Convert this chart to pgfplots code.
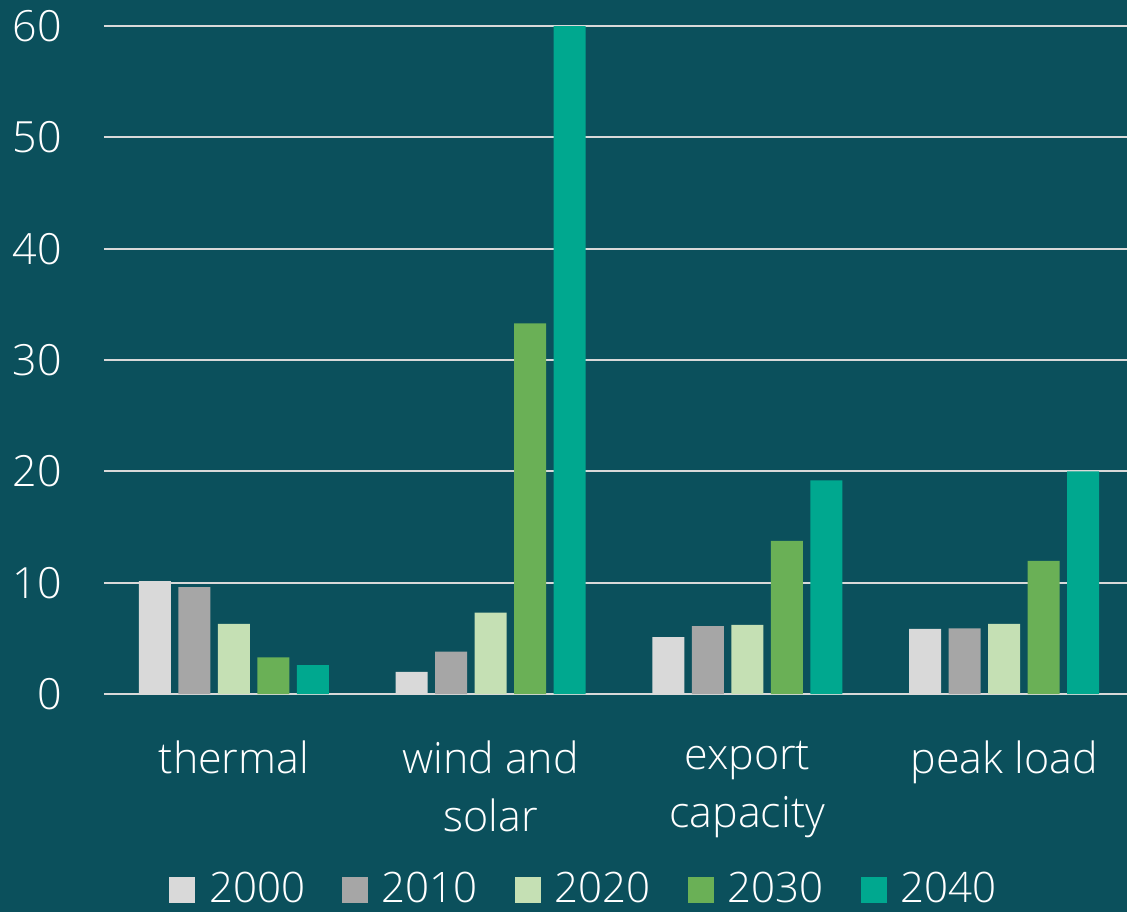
\documentclass[border=0pt]{standalone}
\usepackage{fontspec}
\setmainfont{Open Sans}[UprightFont={* Light}]
\usepackage{pgfplots}
\pgfplotsset{compat=1.18}
\definecolor{bg}{HTML}{0B505C}
\definecolor{gridc}{HTML}{D9D9D9}
\definecolor{c2000}{HTML}{D9D9D9}
\definecolor{c2010}{HTML}{A6A6A6}
\definecolor{c2020}{HTML}{C5E0B4}
\definecolor{c2030}{HTML}{6AB056}
\definecolor{c2040}{HTML}{00A88F}
\pgfplotsset{sqleg/.style={legend image code/.code={\fill[##1] (0pt,-7pt) rectangle (13pt,6pt);}}}
\begin{document}
\begin{tikzpicture}
\useasboundingbox (-52pt,-109pt) rectangle (511.5pt,347pt);
\fill[bg] (-52pt,-109pt) rectangle (511.5pt,347pt);
\begin{axis}[
  at={(0pt,0pt)}, anchor=south west,
  scale only axis, width=511.5pt, height=334pt,
  xmin=-0.506, xmax=3.479, ymin=0, ymax=60,
  ybar=3.75pt, bar width=16pt,
  axis line style={draw=none},
  major tick length=0pt,
  ymajorgrids, grid style={gridc, line width=1pt},
  ytick={0,10,...,60},
  xtick={0,1,2,3},
  xticklabels={thermal, wind and\\solar, export\\capacity, peak load},
  xticklabel style={align=center, font=\fontsize{21.5}{29}\selectfont, text=white, yshift=-20pt},
  yticklabel style={font=\fontsize{21.5}{24}\selectfont, text=white, xshift=-17.5pt},
  /pgf/number format/assume math mode=true,
  legend columns=5,
  legend style={draw=none, fill=none, text=white, font=\fontsize{21}{24}\selectfont,
    at={(0.470,-0.292)}, anchor=center,
    /tikz/every odd column/.append style={column sep=5pt},
    /tikz/every even column/.append style={column sep=16.5pt}},
]
\addplot[fill=c2000, draw=none, sqleg] coordinates {(0,10.15) (1,2.0) (2,5.1) (3,5.85)};
\addplot[fill=c2010, draw=none, sqleg] coordinates {(0,9.6) (1,3.8) (2,6.1) (3,5.9)};
\addplot[fill=c2020, draw=none, sqleg] coordinates {(0,6.3) (1,7.3) (2,6.2) (3,6.3)};
\addplot[fill=c2030, draw=none, sqleg] coordinates {(0,3.3) (1,33.3) (2,13.75) (3,11.95)};
\addplot[fill=c2040, draw=none, sqleg] coordinates {(0,2.6) (1,60) (2,19.2) (3,20.0)};
\legend{2000,2010,2020,2030,2040}
\end{axis}
\end{tikzpicture}
\end{document}
